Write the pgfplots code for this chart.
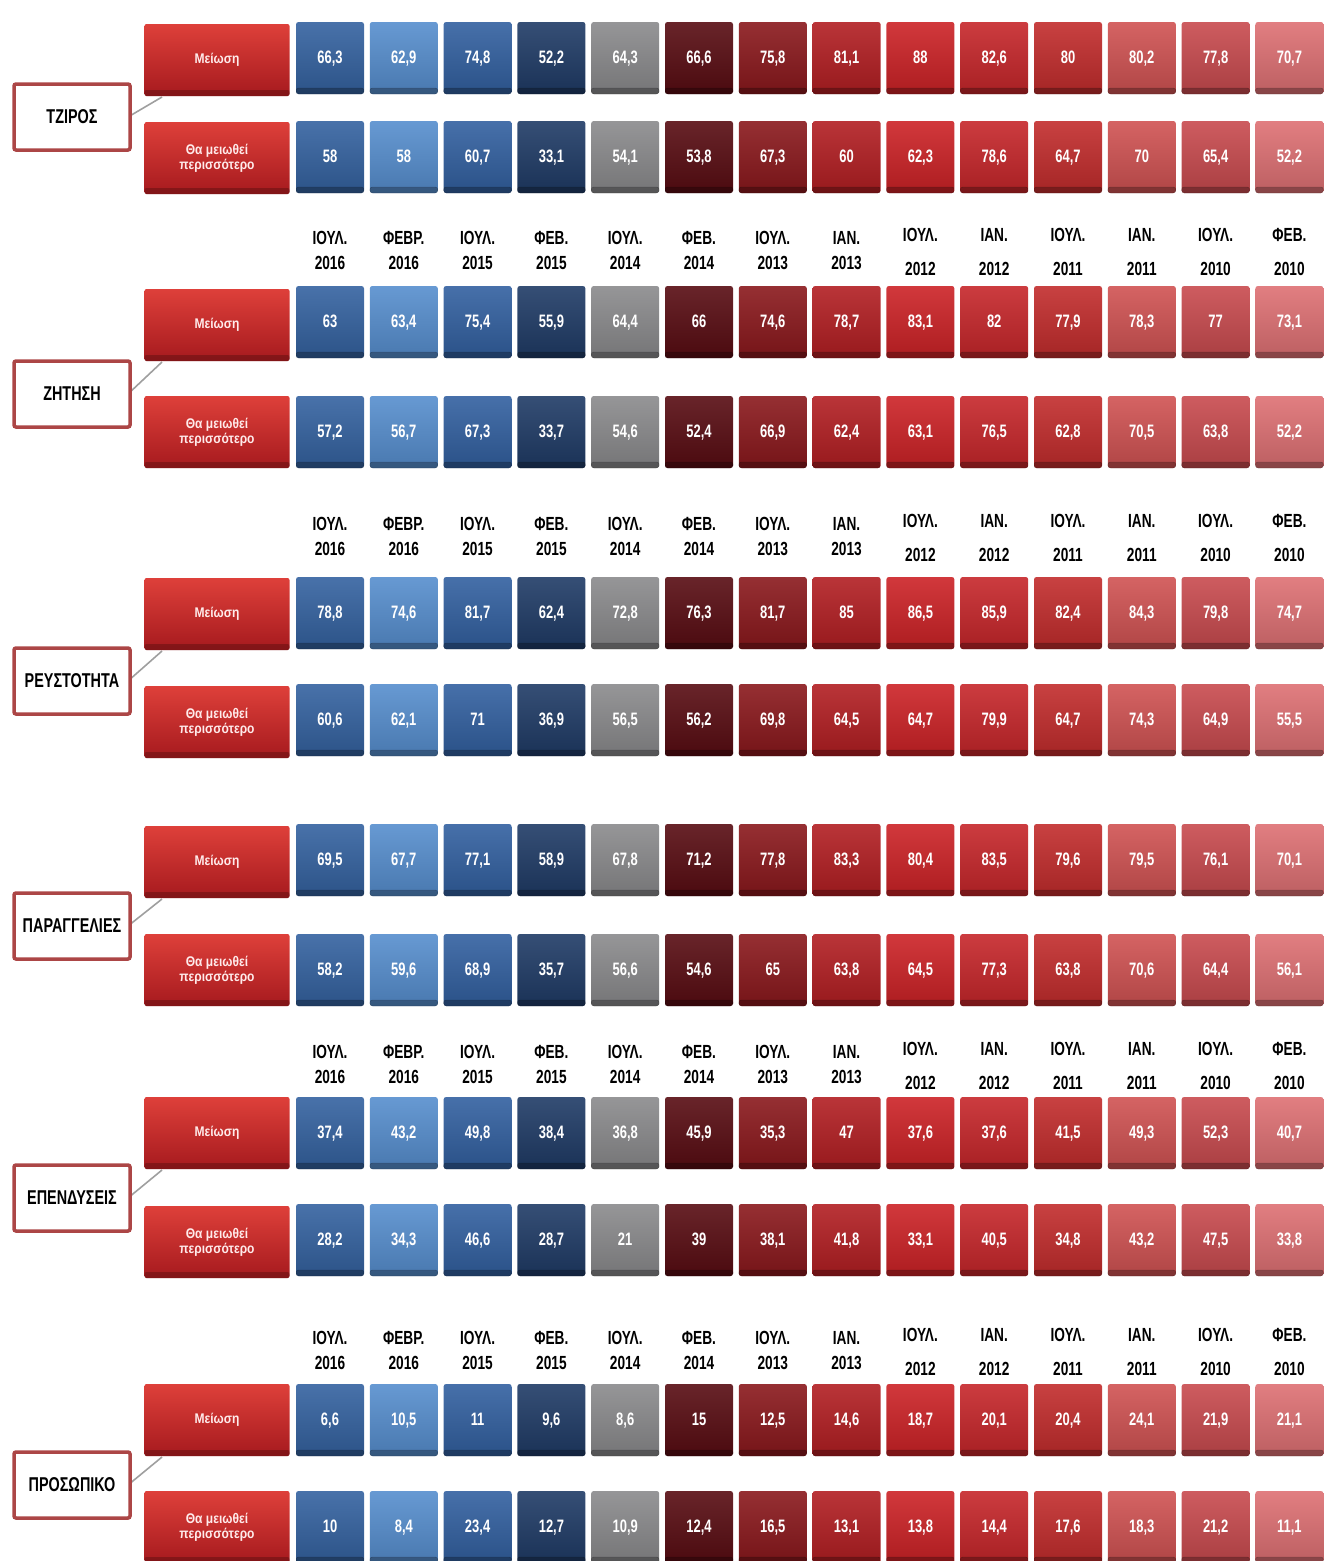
\documentclass[border=0pt]{standalone}
\usepackage{fontspec}
\setmainfont{Liberation Sans}
\newfontfamily\cond[FakeStretch=0.72]{Liberation Sans}
\newfontfamily\condl[FakeStretch=0.86]{Liberation Sans}
\usepackage{pgfplots}
\usepackage{pgfplotstable}
\pgfplotsset{compat=1.18}
\definecolor{grpborder}{RGB}{172,70,70}
\definecolor{labtop}{RGB}{222,64,58}
\definecolor{labbot}{RGB}{166,26,30}
\definecolor{tc0}{RGB}{52,98,160}
\definecolor{tc1}{RGB}{86,142,206}
\definecolor{tc2}{RGB}{50,96,160}
\definecolor{tc3}{RGB}{31,59,102}
\definecolor{tc4}{RGB}{138,138,140}
\definecolor{tc5}{RGB}{88,12,18}
\definecolor{tc6}{RGB}{138,24,28}
\definecolor{tc7}{RGB}{178,30,34}
\definecolor{tc8}{RGB}{204,34,38}
\definecolor{tc9}{RGB}{198,38,42}
\definecolor{tc10}{RGB}{194,44,44}
\definecolor{tc11}{RGB}{208,82,82}
\definecolor{tc12}{RGB}{200,74,78}
\definecolor{tc13}{RGB}{222,112,115}

\pgfplotstableread{
c m t
0 66.3 58
1 62.9 58
2 74.8 60.7
3 52.2 33.1
4 64.3 54.1
5 66.6 53.8
6 75.8 67.3
7 81.1 60.0
8 88 62.3
9 82.6 78.6
10 80.0 64.7
11 80.2 70.0
12 77.8 65.4
13 70.7 52.2
}\tziros
\pgfplotstableread{
c m t
0 63.0 57.2
1 63.4 56.7
2 75.4 67.3
3 55.9 33.7
4 64.4 54.6
5 66 52.4
6 74.6 66.9
7 78.7 62.4
8 83.1 63.1
9 82.0 76.5
10 77.9 62.8
11 78.3 70.5
12 77.0 63.8
13 73.1 52.2
}\zitisi
\pgfplotstableread{
c m t
0 78.8 60.6
1 74.6 62.1
2 81.7 71
3 62.4 36.9
4 72.8 56.5
5 76.3 56.2
6 81.7 69.8
7 85.0 64.5
8 86.5 64.7
9 85.9 79.9
10 82.4 64.7
11 84.3 74.3
12 79.8 64.9
13 74.7 55.5
}\revstotita
\pgfplotstableread{
c m t
0 69.5 58.2
1 67.7 59.6
2 77.1 68.9
3 58.9 35.7
4 67.8 56.6
5 71.2 54.6
6 77.8 65.0
7 83.3 63.8
8 80.4 64.5
9 83.5 77.3
10 79.6 63.8
11 79.5 70.6
12 76.1 64.4
13 70.1 56.1
}\paraggelies
\pgfplotstableread{
c m t
0 37.4 28.2
1 43.2 34.3
2 49.8 46.6
3 38.4 28.7
4 36.8 21.0
5 45.9 39
6 35.3 38.1
7 47.0 41.8
8 37.6 33.1
9 37.6 40.5
10 41.5 34.8
11 49.3 43.2
12 52.3 47.5
13 40.7 33.8
}\ependyseis
\pgfplotstableread{
c m t
0 6.6 10
1 10.5 8.4
2 11 23.4
3 9.6 12.7
4 8.6 10.9
5 15 12.4
6 12.5 16.5
7 14.6 13.1
8 18.7 13.8
9 20.1 14.4
10 20.4 17.6
11 24.1 18.3
12 21.9 21.2
13 21.1 11.1
}\prosopiko

\begin{document}
\begin{tikzpicture}[
  grp/.style={draw=grpborder, line width=3.5pt, fill=white, rounded corners=2pt,
    minimum width=116pt, minimum height=66pt, inner sep=0pt,
    font=\fontsize{20}{20}\cond\bfseries, text=black},
  rowlab/.style={top color=labtop, bottom color=labbot, rounded corners=2pt,
    minimum width=145pt, minimum height=72pt, inner sep=0pt, align=center,
    text=white!92!red, font=\fontsize{14}{15}\condl\bfseries,
    path picture={\fill[black,opacity=0.22] (path picture bounding box.south west) rectangle ([yshift=6pt]path picture bounding box.south east);}},
  hdr/.style={font=\fontsize{19}{19}\cond\bfseries, text=black, inner sep=0pt}
]
\begin{axis}[
  scale only axis, width=1343pt, height=1561pt,
  xmin=0, xmax=1343, ymin=0, ymax=1561, y dir=reverse,
  hide axis, clip=false,
  /pgf/number format/assume math mode=true,
  tile/.style={only marks, mark=*, mark size=0pt,
    visualization depends on={\thisrow{#1}\as\myval},
    visualization depends on={\thisrow{c}\as\col},
    nodes near coords={\pgfmathprintnumber[use comma,fixed,precision=1,assume math mode=true]{\myval}},
    nodes near coords style={/utils/exec={\pgfmathtruncatemacro\ci{\col}},
      anchor=center, inner sep=0pt, text height=13pt, text depth=3pt,
      minimum width=68pt, minimum height=72pt, rounded corners=2.5pt,
      top color=tc\ci!90!white, bottom color=tc\ci!85!black,
      text=white, font=\fontsize{18}{18}\cond\bfseries,
      path picture={\fill[black,opacity=0.28] (path picture bounding box.south west) rectangle ([yshift=6pt]path picture bounding box.south east);}}},
]
\coordinate (SW) at (axis cs:0,1561);
\coordinate (NE) at (axis cs:1343,0);

% tiles
\addplot[tile=m] table[x expr=330+73.8*\thisrow{c}, y expr=58] {\tziros};
\addplot[tile=t] table[x expr=330+73.8*\thisrow{c}, y expr=157] {\tziros};
\addplot[tile=m] table[x expr=330+73.8*\thisrow{c}, y expr=322] {\zitisi};
\addplot[tile=t] table[x expr=330+73.8*\thisrow{c}, y expr=432] {\zitisi};
\addplot[tile=m] table[x expr=330+73.8*\thisrow{c}, y expr=613] {\revstotita};
\addplot[tile=t] table[x expr=330+73.8*\thisrow{c}, y expr=720] {\revstotita};
\addplot[tile=m] table[x expr=330+73.8*\thisrow{c}, y expr=860] {\paraggelies};
\addplot[tile=t] table[x expr=330+73.8*\thisrow{c}, y expr=970] {\paraggelies};
\addplot[tile=m] table[x expr=330+73.8*\thisrow{c}, y expr=1133] {\ependyseis};
\addplot[tile=t] table[x expr=330+73.8*\thisrow{c}, y expr=1240] {\ependyseis};
\addplot[tile=m] table[x expr=330+73.8*\thisrow{c}, y expr=1420] {\prosopiko};
\addplot[tile=t] table[x expr=330+73.8*\thisrow{c}, y expr=1527] {\prosopiko};

% headers
\foreach \hy in {238,524,1052,1338}{
  \foreach \m/\yy [count=\i from 0] in {ΙΟΥΛ./2016,ΦΕΒΡ./2016,ΙΟΥΛ./2015,ΦΕΒ./2015,ΙΟΥΛ./2014,ΦΕΒ./2014,ΙΟΥΛ./2013,ΙΑΝ./2013,ΙΟΥΛ./2012,ΙΑΝ./2012,ΙΟΥΛ./2011,ΙΑΝ./2011,ΙΟΥΛ./2010,ΦΕΒ./2010}{
    \ifnum\i<8 \def\dm{0}\def\dyy{25}\else\def\dm{-3}\def\dyy{31}\fi
    \edef\temp{\noexpand\node[hdr] at (axis cs:{330+73.8*\i},{\hy+\dm}) {\m};
      \noexpand\node[hdr] at (axis cs:{330+73.8*\i},{\hy+\dyy}) {\yy};}
    \temp
  }
}

% connectors, group boxes, row labels
\foreach \gy/\ra/\rb/\name in {117/60/158/ΤΖΙΡΟΣ,394/325/432/ΖΗΤΗΣΗ,681/614/722/ΡΕΥΣΤΟΤΗΤΑ,926/862/970/ΠΑΡΑΓΓΕΛΙΕΣ,1198/1133/1242/ΕΠΕΝΔΥΣΕΙΣ,1485/1420/1527/ΠΡΟΣΩΠΙΚΟ}{
  \edef\temp{
    \noexpand\draw[gray!75, line width=1.6pt] (axis cs:128,\gy) -- (axis cs:162,{\ra+37});
    \noexpand\node[rowlab] at (axis cs:217,\ra) {Μείωση};
    \noexpand\node[rowlab] at (axis cs:217,\rb) {Θα μειωθεί\noexpand\\περισσότερο};
    \noexpand\node[grp] at (axis cs:72,\gy) {\name};}
  \temp
}
\end{axis}
\pgfresetboundingbox
\path (SW) rectangle (NE);
\end{tikzpicture}
\end{document}
